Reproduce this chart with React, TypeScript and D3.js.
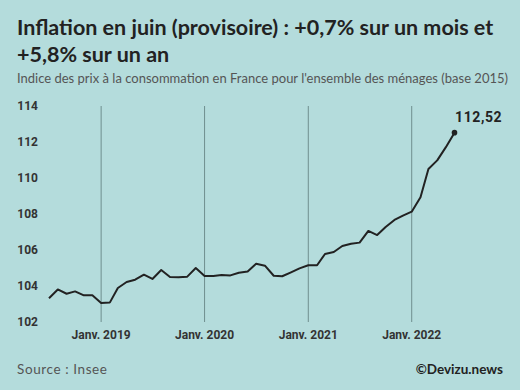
import React from "react";
import * as d3 from "d3";

const months: string[] = [
  "2018-07","2018-08","2018-09","2018-10","2018-11","2018-12",
  "2019-01","2019-02","2019-03","2019-04","2019-05","2019-06","2019-07","2019-08","2019-09","2019-10","2019-11","2019-12",
  "2020-01","2020-02","2020-03","2020-04","2020-05","2020-06","2020-07","2020-08","2020-09","2020-10","2020-11","2020-12",
  "2021-01","2021-02","2021-03","2021-04","2021-05","2021-06","2021-07","2021-08","2021-09","2021-10","2021-11","2021-12",
  "2022-01","2022-02","2022-03","2022-04","2022-05","2022-06",
];
const cpi: number[] = [
  103.32,103.81,103.57,103.70,103.48,103.48,
  103.06,103.09,103.89,104.22,104.35,104.63,104.39,104.89,104.50,104.48,104.52,105.00,
  104.56,104.56,104.61,104.59,104.74,104.80,105.24,105.13,104.57,104.54,104.76,104.98,
  105.15,105.15,105.78,105.89,106.22,106.35,106.41,107.06,106.83,107.28,107.67,107.91,
  108.13,108.93,110.50,110.98,111.70,112.52,
];
const yTicks: number[] = [102, 104, 106, 108, 110, 112, 114];
const janTicks: string[] = ["2019-01", "2020-01", "2021-01", "2022-01"];
const janLabels: string[] = ["Janv. 2019", "Janv. 2020", "Janv. 2021", "Janv. 2022"];
const lastLabel = "112,52";

const W = 520, H = 390;
const parse = d3.timeParse("%Y-%m");

export default function App() {
  const dates = months.map((m) => parse(m) as Date);
  const x = d3.scaleTime().domain([dates[0], dates[dates.length - 1]]).range([49, 454.5]);
  const y = d3.scaleLinear().domain([102, 114]).range([322, 106]);
  const line = d3.line<number>().x((_, i) => x(dates[i])).y((d) => y(d));
  const lastX = x(dates[dates.length - 1]);
  const lastY = y(cpi[cpi.length - 1]);
  const tickFont = "Roboto, sans-serif";
  const textFont = "Lato, sans-serif";
  return (
    <svg width={W} height={H} style={{ position: "absolute", left: 0, top: 0, display: "block" }}>
      <rect x={0} y={0} width={W} height={H} fill="#b4dcdc" />
      <text x={17} y={35} fontFamily={textFont} fontWeight={700} fontSize={21.5} fill="#222">
        Inflation en juin (provisoire) : +0,7% sur un mois et
      </text>
      <text x={17} y={62} fontFamily={textFont} fontWeight={700} fontSize={21.5} fill="#222">
        +5,8% sur un an
      </text>
      <text x={17} y={83} fontFamily={textFont} fontSize={13} fill="#555">
        Indice des prix à la consommation en France pour l'ensemble des ménages (base 2015)
      </text>
      {janTicks.map((m, i) => {
        const xx = x(parse(m) as Date);
        return (
          <g key={m}>
            <line x1={xx} x2={xx} y1={y(114)} y2={y(102)} stroke="#6f8e8e" strokeWidth={1} />
            <text x={xx} y={339} textAnchor="middle" fontFamily={tickFont} fontWeight={700} fontSize={12} fill="#333">
              {janLabels[i]}
            </text>
          </g>
        );
      })}
      {yTicks.map((t) => (
        <text key={t} x={38} y={y(t) + 4.3} textAnchor="end" fontFamily={tickFont} fontWeight={700} fontSize={12} fill="#333">
          {t}
        </text>
      ))}
      <path d={line(cpi) || ""} fill="none" stroke="#222" strokeWidth={2} strokeLinejoin="round" />
      <circle cx={lastX} cy={lastY} r={2.8} fill="#222" />
      <text x={lastX + 0.5} y={122} fontFamily={tickFont} fontWeight={700} fontSize={14} letterSpacing={0.6} fill="#222">
        {lastLabel}
      </text>
      <text x={17} y={374} fontFamily={textFont} fontSize={13.5} letterSpacing={0.6} fill="#555">Source : Insee</text>
      <text x={503} y={374} textAnchor="end" fontFamily={textFont} fontWeight={700} fontSize={13.5} fill="#222">©Devizu.news</text>
    </svg>
  );
}
